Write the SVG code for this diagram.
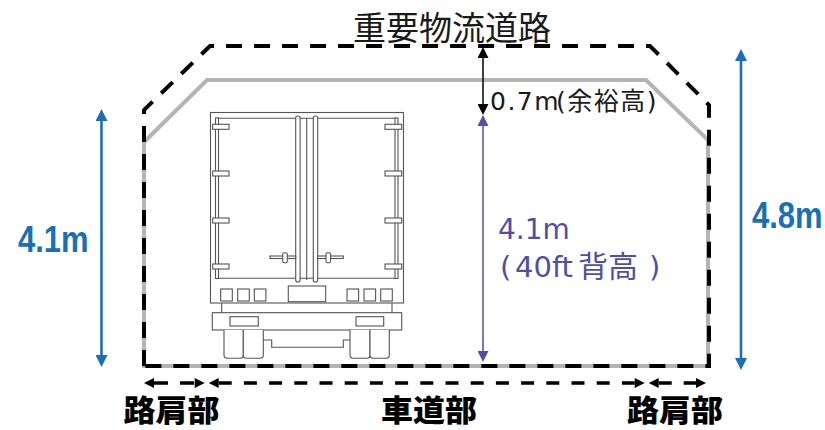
<svg xmlns="http://www.w3.org/2000/svg" width="825" height="430" viewBox="0 0 825 430">
<style>
.cjk{font-family:'Noto Sans CJK JP',sans-serif}
.mix{font-family:'DejaVu Sans','Noto Sans CJK JP',sans-serif}
.big{font-family:'Liberation Sans','Noto Sans CJK JP',sans-serif;font-weight:700;font-size:31px;fill:#1a70b8}
.lab{font-family:'Noto Sans CJK JP',sans-serif;font-weight:900;font-size:30px;fill:#000}
.tk{fill:#fff;stroke:#555;stroke-width:1.1}
.tk2{fill:none;stroke:#555;stroke-width:1.1}
.ar{fill:none;stroke:#000;stroke-width:3.5}
</style>
<defs>
<marker id="mk" viewBox="0 0 10 10" refX="0" refY="5" markerUnits="userSpaceOnUse" markerWidth="12" markerHeight="10" orient="auto-start-reverse"><path d="M0,0 L10,5 L0,10 z" fill="#000"/></marker>
<marker id="mb" viewBox="0 0 10 10" refX="0" refY="5" markerUnits="userSpaceOnUse" markerWidth="12" markerHeight="12" orient="auto-start-reverse"><path d="M0,0 L10,5 L0,10 z" fill="#1a70b8"/></marker>
<marker id="mblk" viewBox="0 0 10 10" refX="0" refY="5" markerUnits="userSpaceOnUse" markerWidth="11" markerHeight="11" orient="auto-start-reverse"><path d="M0,0 L10,5 L0,10 z" fill="#000"/></marker>
<marker id="mi" viewBox="0 0 10 10" refX="0" refY="5" markerUnits="userSpaceOnUse" markerWidth="11" markerHeight="11" orient="auto-start-reverse"><path d="M0,0 L10,5 L0,10 z" fill="#4f4fa8"/></marker>
</defs>
<rect width="825" height="430" fill="#fff"/>

<g id="frame">
<path d="M144,142 L207,80 H646 L708,140 V366 H144 Z" fill="none" stroke="#b4b4b4" stroke-width="4" stroke-linejoin="miter"/>
<path d="M144,366 V110 L210,46 H650 L709,105 V366 Z" fill="none" stroke="#000" stroke-width="4" stroke-dasharray="16 12"/>
</g>

<g id="title"><text class="cjk" x="452" y="40" font-size="33" fill="#1a1a1a" text-anchor="middle">重要物流道路</text></g>

<g id="truck">
<rect class="tk" x="210.5" y="112.5" width="193" height="190.5" stroke="#777"/>
<path class="tk2" d="M217,118.3 H396 M217,278.3 H396"/>
<rect class="tk" x="215.5" y="118" width="3" height="160.5"/>
<rect class="tk" x="395" y="118" width="3" height="160.5"/>
<rect class="tk" x="212.7" y="124.3" width="16.3" height="5"/>
<rect class="tk" x="212.7" y="171" width="16.3" height="5"/>
<rect class="tk" x="212.7" y="218" width="16.3" height="5"/>
<rect class="tk" x="212.7" y="264" width="16.3" height="5"/>
<rect class="tk" x="385" y="124.3" width="16.7" height="5"/>
<rect class="tk" x="385" y="171" width="16.7" height="5"/>
<rect class="tk" x="385" y="218" width="16.7" height="5"/>
<rect class="tk" x="385" y="264" width="16.7" height="5"/>
<rect class="tk" x="295.7" y="116" width="4.4" height="166" rx="2"/>
<rect class="tk" x="313.3" y="116" width="4.4" height="166" rx="2"/>
<path class="tk2" d="M306.7,118.3 V280"/>
<rect class="tk" x="270" y="256" width="25.7" height="2.5"/>
<rect class="tk" x="282.7" y="252.7" width="4.6" height="10" rx="1.5"/>
<rect class="tk" x="317.7" y="256" width="25.6" height="2.5"/>
<rect class="tk" x="326" y="252.7" width="4.6" height="10" rx="1.5"/>
<rect class="tk" x="220.7" y="289" width="11.6" height="12"/>
<rect class="tk" x="237.7" y="289" width="11.6" height="12"/>
<rect class="tk" x="254.3" y="289" width="11.6" height="12"/>
<rect class="tk" x="347" y="289" width="11.6" height="12"/>
<rect class="tk" x="364" y="289" width="11.6" height="12"/>
<rect class="tk" x="380.7" y="289" width="11.6" height="12"/>
<rect class="tk" x="288.3" y="286" width="37.4" height="15.7"/>
<path class="tk2" d="M221.7,303 V312.7 M392,303 V312.7"/>
<rect class="tk" x="212.3" y="312.7" width="189.4" height="17.3"/>
<rect class="tk" x="230" y="316.7" width="28.3" height="9.3"/>
<rect class="tk" x="356" y="316.7" width="27.7" height="9.3"/>
<path class="tk" d="M224,330 V355 Q224,358.3 227.3,358.3 H240 Q243.3,358.3 243.3,355 V330"/>
<path class="tk" d="M243.3,330 V355 Q243.3,358.3 246.6,358.3 H260 Q263.3,358.3 263.3,355 V330"/>
<path class="tk" d="M350,330 V355 Q350,358.3 353.3,358.3 H366.7 Q370,358.3 370,355 V330"/>
<path class="tk" d="M370,330 V355 Q370,358.3 373.3,358.3 H386 Q389.3,358.3 389.3,355 V330"/>
<path class="tk2" d="M263.3,340 H271.7 V347.3 H343.3 V340 H350"/>
</g>

<g id="connectors">
<line x1="101.5" y1="121" x2="101.5" y2="355" stroke="#1a70b8" stroke-width="2.6" marker-start="url(#mb)" marker-end="url(#mb)"/>
<line x1="741" y1="61" x2="741" y2="358" stroke="#1a70b8" stroke-width="2.6" marker-start="url(#mb)" marker-end="url(#mb)"/>
<line x1="483" y1="58" x2="483" y2="104" stroke="#000" stroke-width="1.5" marker-start="url(#mblk)" marker-end="url(#mblk)"/>
<line x1="483" y1="126" x2="483" y2="351" stroke="#4f4fa8" stroke-width="1.5" marker-start="url(#mi)" marker-end="url(#mi)"/>
<line class="ar" x1="154" y1="383" x2="194.7" y2="383" stroke-dasharray="14 12" marker-start="url(#mk)" marker-end="url(#mk)"/>
<line class="ar" x1="218.7" y1="383" x2="634.7" y2="383" stroke-dasharray="13 12.2" marker-start="url(#mk)" marker-end="url(#mk)"/>
<line class="ar" x1="658.7" y1="383" x2="696" y2="383" stroke-dasharray="13 12" marker-start="url(#mk)" marker-end="url(#mk)"/>
</g>

<g id="dim-left"><text class="big" transform="translate(18,252) scale(1,1.19)" x="0" y="0">4.1m</text></g>
<g id="dim-right"><text class="big" transform="translate(752,228) scale(1,1.19)" x="0" y="0">4.8m</text></g>
<g id="dim-margin"><text class="mix" x="490" y="110" font-size="25" fill="#1a1a1a"><tspan letter-spacing="1.5">0.7m</tspan><tspan x="556" letter-spacing="1.5">(余裕高)</tspan></text></g>
<g id="dim-truck">
<text class="mix" x="498" y="239" font-size="28" fill="#4f4fa8">4.1m</text>
<text class="mix" x="500" y="277" font-size="29" fill="#4f4fa8"><tspan>(</tspan><tspan x="515">40ft</tspan><tspan x="578" font-size="30">背高</tspan><tspan x="649">)</tspan></text>
</g>

<g id="label-shoulder-left"><text class="lab" x="171.5" y="421" text-anchor="middle" textLength="96" lengthAdjust="spacingAndGlyphs">路肩部</text></g>
<g id="label-roadway"><text class="lab" x="429" y="421" text-anchor="middle" textLength="96" lengthAdjust="spacingAndGlyphs">車道部</text></g>
<g id="label-shoulder-right"><text class="lab" x="675" y="421" text-anchor="middle" textLength="96" lengthAdjust="spacingAndGlyphs">路肩部</text></g>
</svg>
